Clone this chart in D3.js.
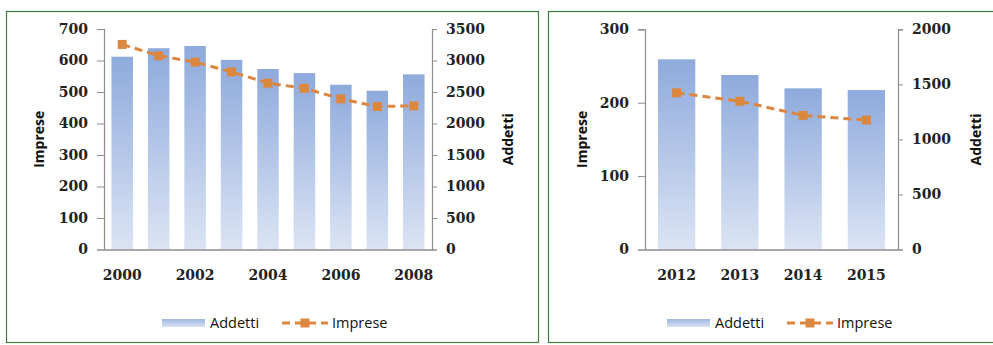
<!DOCTYPE html>
<html>
<head>
<meta charset="utf-8">
<script src="https://cdn.jsdelivr.net/npm/d3@7"></script>
<style>
  html, body { margin: 0; padding: 0; background: #ffffff; }
  svg { display: block; }
  .tick text { font-family: "DejaVu Serif", serif; font-weight: bold; font-size: 14px; fill: #222; }
  .axis-title { font-family: "Open Sans", sans-serif; font-weight: bold; font-size: 14px; fill: #111; }
  .legend-text { font-family: "Open Sans", sans-serif; font-size: 14.5px; fill: #111; }
</style>
</head>
<body>
<svg id="chart" width="993" height="345"></svg>
<script>
// Period 2000–2008
const yearsA = ["2000", "2001", "2002", "2003", "2004", "2005", "2006", "2007", "2008"];
const addettiA = [3060, 3195, 3230, 3010, 2865, 2800, 2615, 2520, 2780];
const impreseA = [651, 615, 595, 564, 528, 512, 478, 454, 456];
const yearLabelsA = ["2000", "2002", "2004", "2006", "2008"];
const impreseTicksA = [0, 100, 200, 300, 400, 500, 600, 700];
const addettiTicksA = [0, 500, 1000, 1500, 2000, 2500, 3000, 3500];

// Period 2012–2015
const yearsB = ["2012", "2013", "2014", "2015"];
const addettiB = [1727, 1585, 1464, 1448];
const impreseB = [213.5, 202, 182.7, 176.3];
const yearLabelsB = ["2012", "2013", "2014", "2015"];
const impreseTicksB = [0, 100, 200, 300];
const addettiTicksB = [0, 500, 1000, 1500, 2000];

const seriesNames = ["Addetti", "Imprese"];

const svg = d3.select("#chart");
const defs = svg.append("defs");

const barGrad = defs.append("linearGradient")
  .attr("id", "barGrad").attr("x1", 0).attr("y1", 0).attr("x2", 0).attr("y2", 1);
barGrad.append("stop").attr("offset", "0%").attr("stop-color", "#8eaadc");
barGrad.append("stop").attr("offset", "100%").attr("stop-color", "#dbe4f4");

const legGrad = defs.append("linearGradient")
  .attr("id", "legGrad").attr("x1", 0).attr("y1", 0).attr("x2", 0).attr("y2", 1);
legGrad.append("stop").attr("offset", "0%").attr("stop-color", "#9fb7e0");
legGrad.append("stop").attr("offset", "100%").attr("stop-color", "#d7e1f3");

const orange = "#dc8740";

function drawPanel(cfg) {
  const g = svg.append("g");

  // panel frame
  g.append("rect")
    .attr("x", cfg.frame[0]).attr("y", cfg.frame[1])
    .attr("width", cfg.frame[2]).attr("height", cfg.frame[3])
    .attr("fill", "#ffffff").attr("stroke", "#3f7f3f").attr("stroke-width", 1.2);

  const x = d3.scaleBand().domain(cfg.years).range([cfg.left, cfg.right])
    .paddingInner(0.41).paddingOuter(0.205);
  const yL = d3.scaleLinear().domain([0, cfg.impMax]).range([cfg.bottom, cfg.top]);
  const yR = d3.scaleLinear().domain([0, cfg.addMax]).range([cfg.bottom, cfg.top]);

  // bars (Addetti, right axis)
  g.selectAll(".bar").data(cfg.years).enter().append("rect")
    .attr("x", d => x(d))
    .attr("width", x.bandwidth())
    .attr("y", (d, i) => yR(cfg.addetti[i]))
    .attr("height", (d, i) => cfg.bottom - yR(cfg.addetti[i]))
    .attr("fill", "url(#barGrad)");

  // left axis
  const axL = g.append("g").attr("transform", `translate(${cfg.left},0)`)
    .call(d3.axisLeft(yL).tickValues(cfg.impTicks).tickSize(7).tickPadding(9).tickFormat(d3.format("d")));
  // right axis
  const axR = g.append("g").attr("transform", `translate(${cfg.right},0)`)
    .call(d3.axisRight(yR).tickValues(cfg.addTicks).tickSize(5).tickPadding(9).tickFormat(d3.format("d")));
  // bottom axis
  const axB = g.append("g").attr("transform", `translate(0,${cfg.bottom})`)
    .call(d3.axisBottom(x).tickValues(cfg.yearLabels).tickSize(0).tickPadding(21));
  axB.select(".domain").attr("stroke", "#8c8c8c").attr("stroke-width", 1.5);

  [axL, axR].forEach(a => {
    a.select(".domain").attr("stroke", "#8c8c8c").attr("stroke-width", 1.2);
    a.selectAll(".tick line").attr("stroke", "#8c8c8c");
  });

  // Imprese line
  const line = d3.line()
    .x(d => x(d.year) + x.bandwidth() / 2)
    .y(d => yL(d.v));
  const pts = cfg.years.map((year, i) => ({ year, v: cfg.imprese[i] }));
  g.append("path").datum(pts)
    .attr("d", line).attr("fill", "none")
    .attr("stroke", orange).attr("stroke-width", 3)
    .attr("stroke-dasharray", "8,5");
  g.selectAll(".mk").data(pts).enter().append("rect")
    .attr("x", d => x(d.year) + x.bandwidth() / 2 - 4.5)
    .attr("y", d => yL(d.v) - 4.5)
    .attr("width", 9).attr("height", 9)
    .attr("fill", orange);

  // axis titles
  g.append("text").attr("class", "axis-title")
    .attr("transform", `translate(${cfg.leftTitleX},${(cfg.top + cfg.bottom) / 2}) rotate(-90)`)
    .attr("text-anchor", "middle").attr("dy", "0.35em").text(seriesNames[1]);
  g.append("text").attr("class", "axis-title")
    .attr("transform", `translate(${cfg.rightTitleX},${(cfg.top + cfg.bottom) / 2}) rotate(-90)`)
    .attr("text-anchor", "middle").attr("dy", "0.35em").text(seriesNames[0]);

  // legend
  const lg = g.append("g").attr("transform", `translate(${cfg.legendX},${cfg.legendY})`);
  lg.append("rect").attr("x", 0).attr("y", -4).attr("width", 43).attr("height", 8)
    .attr("fill", "url(#legGrad)");
  lg.append("text").attr("class", "legend-text").attr("x", 48).attr("dy", "0.35em").text(seriesNames[0]);
  lg.append("line").attr("x1", 120).attr("x2", 166).attr("y1", 0).attr("y2", 0)
    .attr("stroke", orange).attr("stroke-width", 3).attr("stroke-dasharray", "8,5");
  lg.append("rect").attr("x", 138.5).attr("y", -4.5).attr("width", 9).attr("height", 9).attr("fill", orange);
  lg.append("text").attr("class", "legend-text").attr("x", 170).attr("dy", "0.35em").text(seriesNames[1]);
}

drawPanel({
  frame: [6.5, 11.5, 532, 331],
  years: yearsA, addetti: addettiA, imprese: impreseA, yearLabels: yearLabelsA,
  impTicks: impreseTicksA, addTicks: addettiTicksA, impMax: 700, addMax: 3500,
  left: 104, right: 432, top: 29, bottom: 249.5,
  leftTitleX: 39, rightTitleX: 508,
  legendX: 162, legendY: 323
});

drawPanel({
  frame: [548.5, 11.5, 460, 331],
  years: yearsB, addetti: addettiB, imprese: impreseB, yearLabels: yearLabelsB,
  impTicks: impreseTicksB, addTicks: addettiTicksB, impMax: 300, addMax: 2000,
  left: 645, right: 898, top: 29.3, bottom: 249.5,
  leftTitleX: 582, rightTitleX: 976,
  legendX: 667, legendY: 323
});
</script>
</body>
</html>
